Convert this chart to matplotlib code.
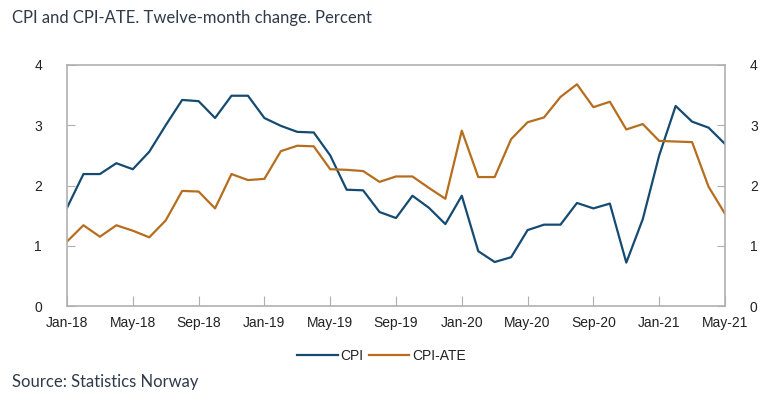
import numpy as np
import pandas as pd
import matplotlib
matplotlib.use("Agg")
import matplotlib.pyplot as plt

# Monthly twelve-month change, Jan-18 .. May-21
months = pd.date_range("2018-01-01", "2021-05-01", freq="MS")

cpi = [1.63, 2.19, 2.19, 2.37, 2.27, 2.56, 3.00, 3.42, 3.40, 3.12, 3.49, 3.49,
       3.12, 2.99, 2.89, 2.88, 2.50, 1.93, 1.92, 1.56, 1.46, 1.83, 1.63, 1.36,
       1.83, 0.91, 0.73, 0.81, 1.26, 1.35, 1.35, 1.71, 1.62, 1.70, 0.72, 1.44,
       2.50, 3.32, 3.06, 2.96, 2.69]

cpi_ate = [1.07, 1.34, 1.15, 1.34, 1.25, 1.14, 1.42, 1.91, 1.90, 1.62, 2.19, 2.09,
           2.11, 2.57, 2.66, 2.65, 2.27, 2.26, 2.24, 2.06, 2.15, 2.15, 1.96, 1.78,
           2.91, 2.14, 2.14, 2.77, 3.05, 3.13, 3.47, 3.68, 3.30, 3.39, 2.93, 3.02,
           2.74, 2.73, 2.72, 1.98, 1.53]

tick_labels = [d.strftime("%b-%y") for d in months[::4]]

blue = "#154b72"
orange = "#b66e1e"
frame = "#b0b0b0"

fig = plt.figure(figsize=(7.66, 4.08), dpi=100)
ax = fig.add_axes([67 / 766, 1 - 306 / 408, 658 / 766, 241 / 408])

x = np.arange(len(months))
ax.plot(x, cpi, color=blue, lw=1.6, label="CPI")
ax.plot(x, cpi_ate, color=orange, lw=1.6, label="CPI-ATE")

ax.set_xlim(0, len(months) - 1)
ax.set_ylim(0, 4)
ax.set_xticks(x[::4])
ax.set_xticklabels(tick_labels)
ax.set_yticks([0, 1, 2, 3, 4])

for s in ax.spines.values():
    s.set_color(frame)
    s.set_linewidth(1.2)

tick_font = "Liberation Sans"
ax.tick_params(axis="x", direction="in", length=7, color=frame, pad=7,
               labelsize=10, labelcolor="#222222")
ax.tick_params(axis="y", direction="in", length=6, color=frame, pad=18,
               labelsize=10, labelcolor="#222222", right=True, labelright=True)
for lab in ax.get_xticklabels() + ax.get_yticklabels():
    lab.set_fontfamily(tick_font)

leg = ax.legend(loc="upper center", bbox_to_anchor=(0.478, -0.125), ncol=2,
                frameon=False, handlelength=2.9, handletextpad=0.2,
                columnspacing=0.4, prop={"family": tick_font, "size": 10})
for t in leg.get_texts():
    t.set_color("#222222")

fig.text(12 / 766, 1 - 18 / 408, "CPI and CPI-ATE. Twelve-month change. Percent",
         family="Lato", fontsize=12, color="#2f3b4a", va="center", ha="left")
fig.text(12 / 766, 1 - 382 / 408, "Source: Statistics Norway",
         family="Lato", fontsize=12, color="#2f3b4a", va="center", ha="left")

fig.savefig("out.png", dpi=100)
